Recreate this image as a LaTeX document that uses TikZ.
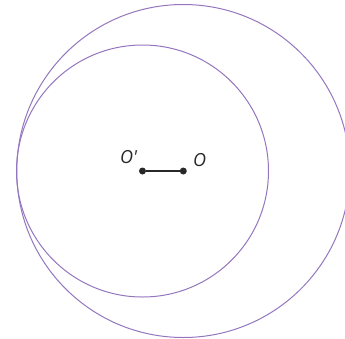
\documentclass[tikz,border=0pt]{standalone}
\usepackage{fontspec}
\newfontfamily\lblfont{Open Sans}
\definecolor{ringpurple}{RGB}{148,118,190}
\definecolor{segdark}{RGB}{40,40,40}

\begin{document}
\begin{tikzpicture}[x=1pt,y=-1pt]
    \pgfmathsetmacro{\bigr}{166.5}
    \pgfmathsetmacro{\smallr}{126}
    \tikzset{ring/.style={draw=ringpurple,line width=1pt},
             centre/.style={circle,fill=segdark,inner sep=0pt,minimum size=7pt},
             lbl/.style={font=\lblfont\itshape\fontsize{18}{21}\selectfont,text=segdark}}
    \useasboundingbox (0,0) rectangle (345,338);
    \clip (0,0) rectangle (345,338);
    \node[centre] (Op) at (142.5,171) {};
    \node[centre] (O) at (183.3,171) {};
    \draw[ring] (Op) circle (\smallr);
    \draw[ring] (O) circle (\bigr);
    \draw[segdark,line width=1.2pt] (Op) -- (O);
    \node[lbl] (OpLbl) at (128.5,157) {O'};
    \node[lbl] (OLbl) at (199.5,160) {O};
\end{tikzpicture}
\end{document}
